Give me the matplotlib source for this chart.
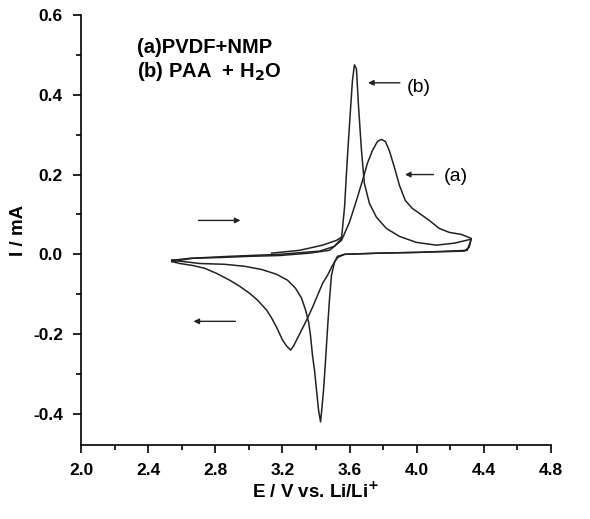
import numpy as np
import matplotlib
matplotlib.use('Agg')
import matplotlib.pyplot as plt
from matplotlib.ticker import MultipleLocator

plt.rc('font', family=['Liberation Sans', 'DejaVu Sans'], weight='bold', size=12)

# curve (a) PVDF+NMP : forward sweep then reverse sweep
a_E = [2.541, 2.666, 2.826, 3.005, 3.183, 3.361, 3.480, 3.552, 3.599, 3.641,
       3.677, 3.706, 3.736, 3.766, 3.790, 3.813, 3.837, 3.867, 3.897, 3.932,
       3.974, 4.015, 4.075, 4.134, 4.194, 4.265, 4.325,
       4.313, 4.283, 4.015, 3.778, 3.570, 3.528, 3.498, 3.468, 3.439, 3.409,
       3.379, 3.344, 3.314, 3.290, 3.266, 3.249, 3.225, 3.201, 3.165, 3.136,
       3.106, 3.052, 3.005, 2.945, 2.886, 2.809, 2.737, 2.666, 2.589, 2.541]
a_I = [-0.018, -0.010, -0.008, -0.005, -0.003, 0.003, 0.010, 0.035, 0.080, 0.135,
       0.185, 0.228, 0.260, 0.283, 0.288, 0.283, 0.260, 0.218, 0.173, 0.135,
       0.115, 0.103, 0.085, 0.065, 0.055, 0.050, 0.040,
       0.018, 0.008, 0.005, 0.003, 0.000, -0.008, -0.028, -0.053, -0.073, -0.103,
       -0.133, -0.165, -0.190, -0.210, -0.230, -0.240, -0.230, -0.215, -0.183, -0.160,
       -0.140, -0.115, -0.098, -0.080, -0.065, -0.048, -0.035, -0.028, -0.023, -0.018]

# curve (b) PAA + H2O : first scan from rest potential
b0_E = [3.136, 3.302, 3.439, 3.522, 3.552]
b0_I = [0.003, 0.010, 0.023, 0.035, 0.043]

# curve (b) full loop
b_E = [2.541, 2.648, 2.886, 3.183, 3.421, 3.510, 3.552, 3.570, 3.587, 3.605,
       3.617, 3.629, 3.641, 3.653, 3.671, 3.688, 3.718, 3.760, 3.819, 3.897,
       3.998, 4.117, 4.224, 4.325,
       4.301, 4.015, 3.778, 3.570, 3.528, 3.510, 3.492, 3.480, 3.468, 3.457,
       3.445, 3.433, 3.427, 3.415, 3.403, 3.391, 3.379, 3.367, 3.356, 3.338,
       3.314, 3.278, 3.231, 3.165, 3.076, 2.975, 2.856, 2.707, 2.648, 2.541]
b_I = [-0.015, -0.010, -0.005, 0.000, 0.008, 0.020, 0.040, 0.118, 0.243, 0.360,
       0.435, 0.475, 0.465, 0.373, 0.260, 0.178, 0.128, 0.093, 0.065, 0.045,
       0.030, 0.023, 0.028, 0.038,
       0.010, 0.005, 0.003, 0.000, -0.005, -0.020, -0.053, -0.115, -0.190, -0.265,
       -0.340, -0.395, -0.420, -0.390, -0.340, -0.290, -0.253, -0.203, -0.170, -0.140,
       -0.110, -0.085, -0.065, -0.050, -0.038, -0.030, -0.025, -0.023, -0.020, -0.015]

xticks = [2.0, 2.4, 2.8, 3.2, 3.6, 4.0, 4.4, 4.8]
yticks = [-0.4, -0.2, 0.0, 0.2, 0.4, 0.6]

fig = plt.figure(figsize=(5.9, 5.19), dpi=100)
ax = fig.add_axes([0.1373, 0.1426, 0.7966, 0.8285])

lc = '#222222'
ax.plot(a_E, a_I, color=lc, lw=1.1)
ax.plot(b_E, b_I, color=lc, lw=1.1)
ax.plot(b0_E, b0_I, color=lc, lw=1.1)

ax.set_xlim(2.0, 4.8)
ax.set_ylim(-0.478, 0.6)
ax.set_xticks(xticks)
ax.set_xticklabels(['%.1f' % v for v in xticks])
ax.set_yticks(yticks)
ax.set_yticklabels(['%.1f' % v for v in yticks])
ax.xaxis.set_minor_locator(MultipleLocator(0.2))
ax.yaxis.set_minor_locator(MultipleLocator(0.1))

for s in ['top', 'right']:
    ax.spines[s].set_visible(False)
for s in ['left', 'bottom']:
    ax.spines[s].set_linewidth(1.2)
ax.tick_params(which='major', direction='out', length=6, width=1.2,
               labelsize=12.5, pad=7)
ax.tick_params(which='minor', direction='out', length=3.5, width=1.2)

ax.set_xlabel('E / V vs. Li/Li$^{\\mathbf{+}}$', fontsize=13.5, fontweight='bold',
              labelpad=3)
ax.set_ylabel('I / mA', fontsize=13.5, fontweight='bold', labelpad=4)

# legend text
ax.text(0.12, 0.925, '(a)PVDF+NMP', transform=ax.transAxes, fontsize=14.5,
        fontweight='bold', va='center')
ax.text(0.12, 0.868, '(b) PAA  + H$_{\\mathbf{2}}$O', transform=ax.transAxes,
        fontsize=14.5, fontweight='bold', va='center')

# scan direction arrows
arw = dict(arrowstyle='-|>', lw=1.0, color=lc, mutation_scale=8, shrinkA=0, shrinkB=0)
ax.annotate('', xy=(2.95, 0.085), xytext=(2.70, 0.085), arrowprops=arw)
ax.annotate('', xy=(2.67, -0.168), xytext=(2.92, -0.168), arrowprops=arw)
ax.annotate('', xy=(3.71, 0.43), xytext=(3.90, 0.43), arrowprops=arw)
ax.annotate('', xy=(3.93, 0.2), xytext=(4.10, 0.2), arrowprops=arw)
ax.text(3.94, 0.418, '(b)', fontsize=14, fontweight='normal', va='center')
ax.text(4.16, 0.195, '(a)', fontsize=14, fontweight='normal', va='center')

fig.savefig('out.png', dpi=100)
